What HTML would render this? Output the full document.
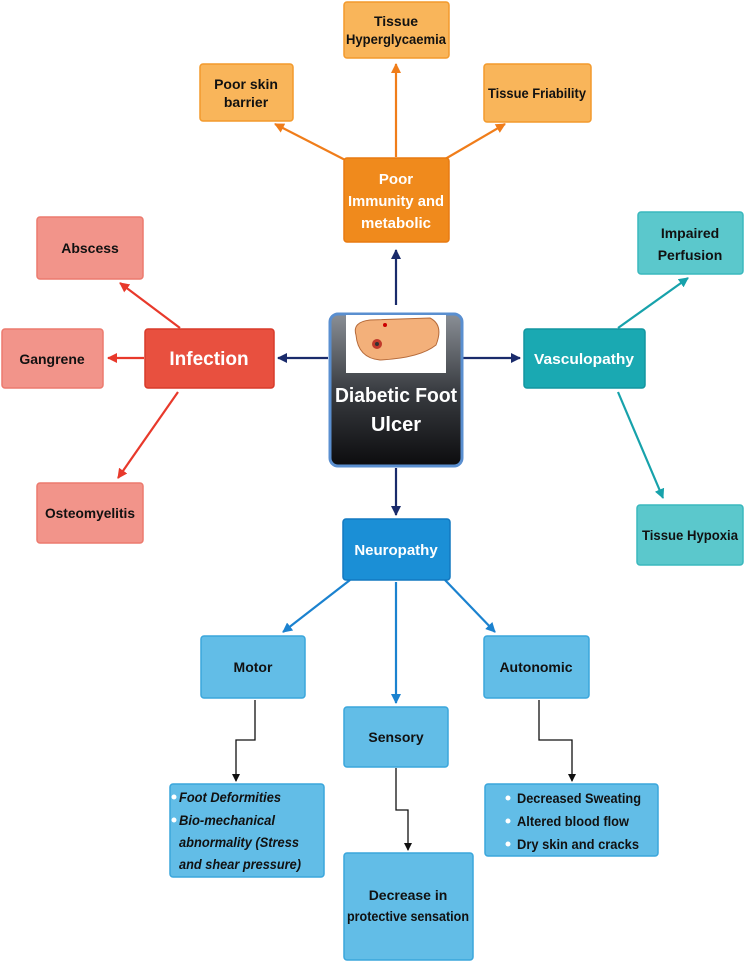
<!DOCTYPE html>
<html><head><style>
body{margin:0;background:#fff;}
svg{display:block;font-family:"Liberation Sans Narrow","Liberation Sans",sans-serif;font-weight:bold;}
</style></head><body>
<svg width="745" height="964" viewBox="0 0 745 964" xmlns="http://www.w3.org/2000/svg">
<defs>
<marker id="an" markerWidth="10" markerHeight="10" refX="9" refY="5" orient="auto" markerUnits="userSpaceOnUse"><path d="M0,0 L10,5 L0,10 z" fill="#1a2b6b"/></marker>
<marker id="ao" markerWidth="10" markerHeight="10" refX="9" refY="5" orient="auto" markerUnits="userSpaceOnUse"><path d="M0,0 L10,5 L0,10 z" fill="#f07d1a"/></marker>
<marker id="ar" markerWidth="10" markerHeight="10" refX="9" refY="5" orient="auto" markerUnits="userSpaceOnUse"><path d="M0,0 L10,5 L0,10 z" fill="#e8392b"/></marker>
<marker id="at" markerWidth="10" markerHeight="10" refX="9" refY="5" orient="auto" markerUnits="userSpaceOnUse"><path d="M0,0 L10,5 L0,10 z" fill="#17a2ab"/></marker>
<marker id="ab" markerWidth="10" markerHeight="10" refX="9" refY="5" orient="auto" markerUnits="userSpaceOnUse"><path d="M0,0 L10,5 L0,10 z" fill="#1b82cf"/></marker>
<marker id="ak" markerWidth="8" markerHeight="8" refX="7" refY="4" orient="auto" markerUnits="userSpaceOnUse"><path d="M0,0 L8,4 L0,8 z" fill="#111"/></marker>
<linearGradient id="cg" x1="0" y1="0" x2="0" y2="1"><stop offset="0" stop-color="#8a8f96"/><stop offset="0.5" stop-color="#3a3d42"/><stop offset="1" stop-color="#0c0c0e"/></linearGradient>
</defs>
<g stroke-width="2.2" fill="none">
<line x1="396" y1="305" x2="396" y2="250" stroke="#1a2b6b" marker-end="url(#an)"/>
<line x1="328" y1="358" x2="278" y2="358" stroke="#1a2b6b" marker-end="url(#an)"/>
<line x1="463" y1="358" x2="520" y2="358" stroke="#1a2b6b" marker-end="url(#an)"/>
<line x1="396" y1="468" x2="396" y2="515" stroke="#1a2b6b" marker-end="url(#an)"/>
<line x1="396" y1="157" x2="396" y2="64" stroke="#f07d1a" marker-end="url(#ao)"/>
<line x1="355" y1="165" x2="275" y2="124" stroke="#f07d1a" marker-end="url(#ao)"/>
<line x1="440" y1="162" x2="505" y2="124" stroke="#f07d1a" marker-end="url(#ao)"/>
<line x1="180" y1="328" x2="120" y2="283" stroke="#e8392b" marker-end="url(#ar)"/>
<line x1="144" y1="358" x2="108" y2="358" stroke="#e8392b" marker-end="url(#ar)"/>
<line x1="178" y1="392" x2="118" y2="478" stroke="#e8392b" marker-end="url(#ar)"/>
<line x1="618" y1="328" x2="688" y2="278" stroke="#17a2ab" marker-end="url(#at)"/>
<line x1="618" y1="392" x2="663" y2="498" stroke="#17a2ab" marker-end="url(#at)"/>
<line x1="350" y1="580" x2="283" y2="632" stroke="#1b82cf" marker-end="url(#ab)"/>
<line x1="396" y1="582" x2="396" y2="703" stroke="#1b82cf" marker-end="url(#ab)"/>
<line x1="445" y1="580" x2="495" y2="632" stroke="#1b82cf" marker-end="url(#ab)"/>
</g>
<g stroke="#111" stroke-width="1.3" fill="none">
<path d="M255,700 V740 H236 V781" marker-end="url(#ak)"/>
<path d="M396,768 V810 H408 V850" marker-end="url(#ak)"/>
<path d="M539,700 V740 H572 V781" marker-end="url(#ak)"/>
</g>
<g stroke-width="1.5">
<rect x="344" y="2" width="105" height="56" rx="3" fill="#f9b55a" stroke="#f39a2c"/>
<rect x="200" y="64" width="93" height="57" rx="3" fill="#f9b55a" stroke="#f39a2c"/>
<rect x="484" y="64" width="107" height="58" rx="3" fill="#f9b55a" stroke="#f39a2c"/>
<rect x="344" y="158" width="105" height="84" rx="3" fill="#f08a1c" stroke="#e87a10"/>
<rect x="37" y="217" width="106" height="62" rx="3" fill="#f2948a" stroke="#ec7a6e"/>
<rect x="2" y="329" width="101" height="59" rx="3" fill="#f2948a" stroke="#ec7a6e"/>
<rect x="145" y="329" width="129" height="59" rx="3" fill="#e8503f" stroke="#d83a2a"/>
<rect x="37" y="483" width="106" height="60" rx="3" fill="#f2948a" stroke="#ec7a6e"/>
<rect x="524" y="329" width="121" height="59" rx="3" fill="#1aa9b2" stroke="#1296a0"/>
<rect x="638" y="212" width="105" height="62" rx="3" fill="#5bc8cc" stroke="#3ab8bd"/>
<rect x="637" y="505" width="106" height="60" rx="3" fill="#5bc8cc" stroke="#3ab8bd"/>
<rect x="343" y="519" width="107" height="61" rx="3" fill="#1b8fd6" stroke="#1278c0"/>
<rect x="201" y="636" width="104" height="62" rx="3" fill="#62bde7" stroke="#3aa6dc"/>
<rect x="344" y="707" width="104" height="60" rx="3" fill="#62bde7" stroke="#3aa6dc"/>
<rect x="484" y="636" width="105" height="62" rx="3" fill="#62bde7" stroke="#3aa6dc"/>
<rect x="170" y="784" width="154" height="93" rx="3" fill="#62bde7" stroke="#3aa6dc"/>
<rect x="485" y="784" width="173" height="72" rx="3" fill="#62bde7" stroke="#3aa6dc"/>
<rect x="344" y="853" width="129" height="107" rx="3" fill="#62bde7" stroke="#3aa6dc"/>
</g>
<rect x="330" y="314" width="132" height="152" rx="8" fill="url(#cg)" stroke="#5a8fd0" stroke-width="3"/>
<rect x="346" y="315" width="100" height="58" fill="#fff"/>
<path d="M356,335 Q352,322 370,320 L430,318 Q444,325 436,345 Q420,358 380,360 Q358,358 356,335z" fill="#f3b07a" stroke="#b56a3a" stroke-width="1"/>
<circle cx="377" cy="344" r="5" fill="#c0392b"/><circle cx="377" cy="344" r="2" fill="#333"/>
<circle cx="385" cy="325" r="2" fill="#c00"/>
<g font-size="14" fill="#111" text-anchor="middle">
<text x="396" y="26">Tissue</text><text x="396" y="44" textLength="100" lengthAdjust="spacingAndGlyphs">Hyperglycaemia</text>
<text x="246" y="89">Poor skin</text><text x="246" y="107">barrier</text>
<text x="537" y="98" textLength="98" lengthAdjust="spacingAndGlyphs">Tissue Friability</text>
<text x="90" y="253">Abscess</text>
<text x="52" y="364">Gangrene</text>
<text x="90" y="518" textLength="90" lengthAdjust="spacingAndGlyphs">Osteomyelitis</text>
<text x="690" y="238">Impaired</text><text x="690" y="260">Perfusion</text>
<text x="690" y="540" textLength="96" lengthAdjust="spacingAndGlyphs">Tissue Hypoxia</text>
<text x="253" y="672">Motor</text>
<text x="396" y="742">Sensory</text>
<text x="536" y="672">Autonomic</text>
<text x="408" y="900">Decrease in</text><text x="408" y="921" textLength="122" lengthAdjust="spacingAndGlyphs">protective sensation</text>
</g>
<g font-size="15" fill="#fff" text-anchor="middle">
<text x="396" y="184">Poor</text><text x="396" y="206" textLength="96" lengthAdjust="spacingAndGlyphs">Immunity and</text><text x="396" y="228">metabolic</text>
<text x="584" y="364" textLength="100" lengthAdjust="spacingAndGlyphs">Vasculopathy</text>
<text x="396" y="555">Neuropathy</text>
</g>
<text x="209" y="365" font-size="19" fill="#fff" text-anchor="middle">Infection</text>
<text x="396" y="402" font-size="20" fill="#fff" text-anchor="middle" textLength="122" lengthAdjust="spacingAndGlyphs">Diabetic Foot</text>
<text x="396" y="431" font-size="20" fill="#fff" text-anchor="middle">Ulcer</text>
<g font-size="14" fill="#111" font-style="italic">
<circle cx="174" cy="797" r="2.5" fill="#fff"/><circle cx="174" cy="820" r="2.5" fill="#fff"/>
<text x="179" y="802" textLength="102" lengthAdjust="spacingAndGlyphs">Foot Deformities</text>
<text x="179" y="825" textLength="96" lengthAdjust="spacingAndGlyphs">Bio-mechanical</text>
<text x="179" y="847" textLength="120" lengthAdjust="spacingAndGlyphs">abnormality (Stress</text>
<text x="179" y="869" textLength="122" lengthAdjust="spacingAndGlyphs">and shear pressure)</text>
</g>
<g font-size="14" fill="#111">
<circle cx="508" cy="798" r="2.5" fill="#fff"/><circle cx="508" cy="821" r="2.5" fill="#fff"/><circle cx="508" cy="844" r="2.5" fill="#fff"/>
<text x="517" y="803" textLength="124" lengthAdjust="spacingAndGlyphs">Decreased Sweating</text>
<text x="517" y="826" textLength="112" lengthAdjust="spacingAndGlyphs">Altered blood flow</text>
<text x="517" y="849" textLength="122" lengthAdjust="spacingAndGlyphs">Dry skin and cracks</text>
</g>
</svg>
</body></html>
